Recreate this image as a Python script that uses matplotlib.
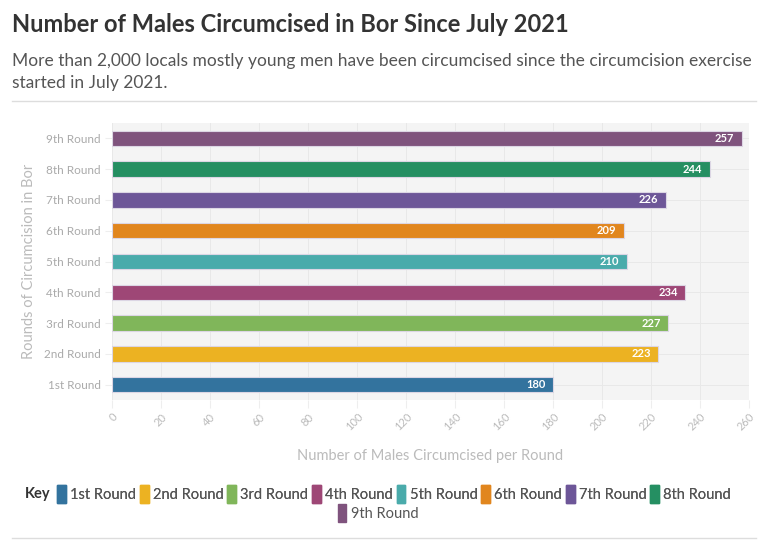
import matplotlib.pyplot as plt
from matplotlib.patches import Patch
from matplotlib.lines import Line2D

# data
rounds = ['1st Round', '2nd Round', '3rd Round', '4th Round', '5th Round',
          '6th Round', '7th Round', '8th Round', '9th Round']
males = [180, 223, 227, 234, 210, 209, 226, 244, 257]
colors = ['#33739e', '#ecb222', '#80b65a', '#9e4776', '#4aabab',
          '#e1861e', '#6d5698', '#258f62', '#7f537d']
xticks = list(range(0, 261, 20))

plt.rcParams['font.family'] = ['Lato', 'DejaVu Sans']

fig = plt.figure(figsize=(7.68, 5.41), dpi=100)
ax = fig.add_axes([112 / 768, 1 - 400 / 541, (749 - 112) / 768, (400 - 123) / 541])

ax.set_facecolor('#f4f4f4')
for i, (r, v, c) in enumerate(zip(rounds, males, colors)):
    ax.barh(i, v, height=0.5, color=c, edgecolor='#dcd6e4', linewidth=0.8, zorder=3)
    ax.text(v - 3, i, str(v), ha='right', va='center', color='white',
            fontsize=8, fontweight='bold', zorder=4)

ax.set_xlim(0, 260)
ax.set_ylim(-0.5, 8.5)
ax.set_xticks(xticks)
ax.set_xticklabels([str(t) for t in xticks], rotation=45, ha='right',
                   rotation_mode='anchor', color='#bbbbbb', fontsize=8)
ax.set_yticks(range(len(rounds)))
ax.set_yticklabels(rounds, color='#aaaaaa', fontsize=8.5)
ax.tick_params(axis='x', length=6, color='#eeeeee', pad=2)
ax.tick_params(axis='y', length=5, color='#eeeeee', pad=3)
ax.grid(True, color='#e8e8e8', linewidth=0.7, zorder=0)
for s in ax.spines.values():
    s.set_visible(False)

ax.set_xlabel('Number of Males Circumcised per Round', color='#bbbbbb',
              fontsize=10.5, labelpad=12)
ax.set_ylabel('Rounds of Circumcision in Bor', color='#bbbbbb',
              fontsize=10.5, labelpad=6)

# titles
fig.text(12 / 768, 1 - 25 / 541, 'Number of Males Circumcised in Bor Since July 2021',
         fontsize=17, fontweight='bold', color='#333333', va='center')
fig.text(12 / 768, 1 - 61 / 541,
         'More than 2,000 locals mostly young men have been circumcised since the circumcision exercise',
         fontsize=12.5, color='#555555', va='center')
fig.text(12 / 768, 1 - 83 / 541, 'started in July 2021.',
         fontsize=12.5, color='#555555', va='center')

# separator lines
fig.add_artist(Line2D([12 / 768, 756 / 768], [1 - 101 / 541] * 2,
                      color='#dddddd', linewidth=1))
fig.add_artist(Line2D([12 / 768, 756 / 768], [1 - 538 / 541] * 2,
                      color='#dddddd', linewidth=1))

# key
fig.text(25 / 768, 1 - 494 / 541, 'Key', fontsize=10.5, fontweight='bold',
         color='#333333', va='center')
handles = [Patch(facecolor=c, edgecolor=c, label=r) for r, c in zip(rounds, colors)]
leg_kw = dict(frameon=False, fontsize=10.5, handlelength=0.6, handleheight=1.5,
              handletextpad=0.3, columnspacing=0.25, labelcolor='#555555',
              borderpad=0, borderaxespad=0)
leg1 = fig.legend(handles=handles[:8], ncol=8, loc='center left',
                  bbox_to_anchor=(57 / 768, 1 - 494 / 541), **leg_kw)
fig.add_artist(leg1)
fig.legend(handles=handles[8:], ncol=1, loc='center',
           bbox_to_anchor=(378 / 768, 1 - 513 / 541), **leg_kw)

fig.savefig('out.png', dpi=100)
